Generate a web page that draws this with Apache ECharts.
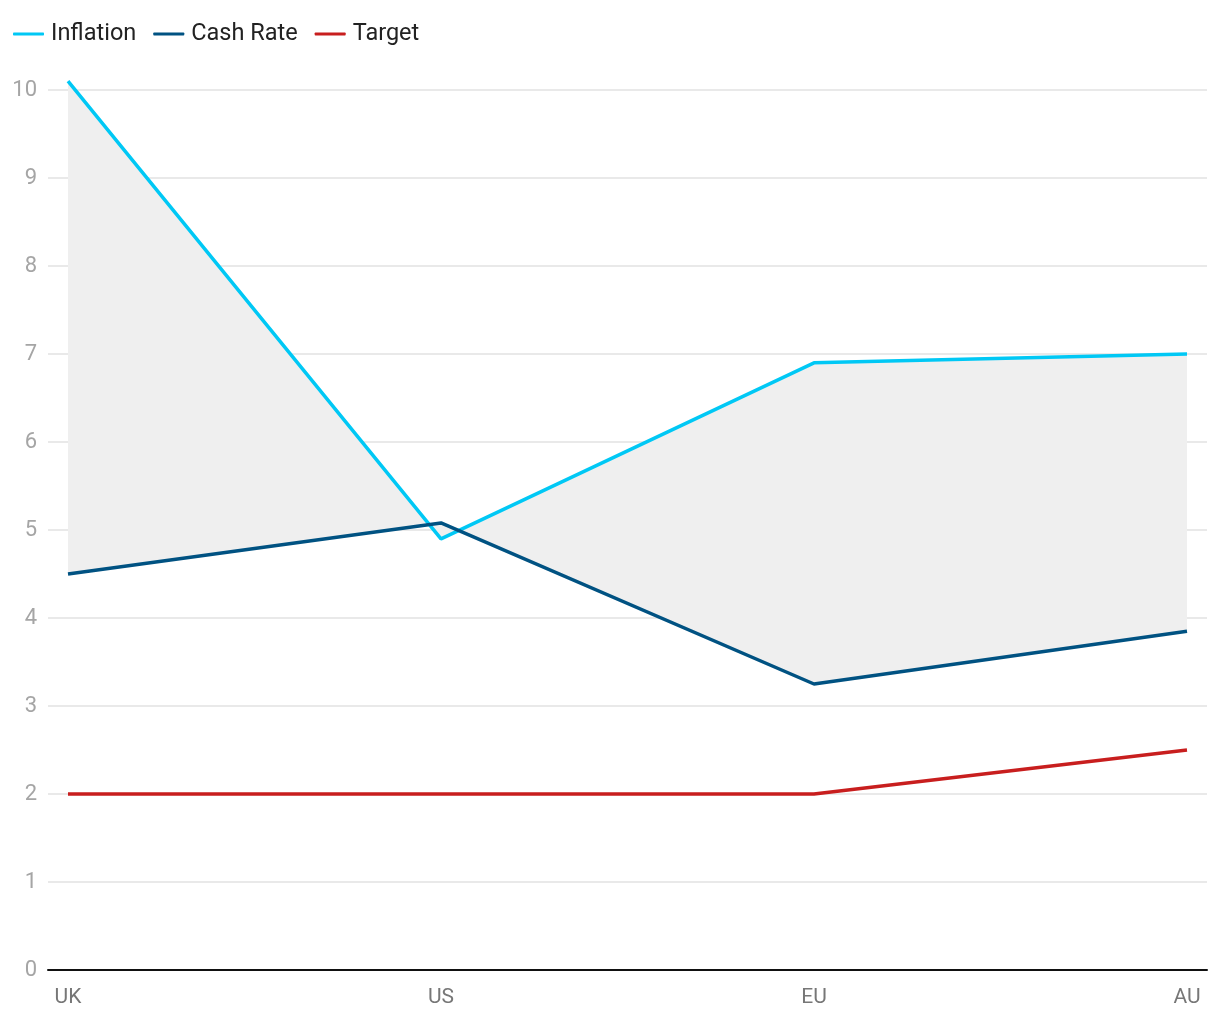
<!DOCTYPE html>
<html>
<head>
<meta charset="utf-8">
<script src="https://cdn.jsdelivr.net/npm/echarts@6/dist/echarts.min.js"></script>
<style>html,body{margin:0;padding:0;background:#fff}#c{width:1220px;height:1020px}</style>
</head>
<body>
<div id="c"></div>
<script>
var categories = ['UK', 'US', 'EU', 'AU'];
var inflation = [10.1, 4.9, 6.9, 7.0];
var cashRate = [4.5, 5.08, 3.25, 3.85];
var target = [2, 2, 2, 2.5];
var yTicks = [0, 1, 2, 3, 4, 5, 6, 7, 8, 9, 10];

function pairs(arr) { return arr.map(function (v, i) { return [i, v]; }); }

var chart = echarts.init(document.getElementById('c'), null, { renderer: 'canvas' });
var pad = 20 / 373;
chart.setOption({
  animation: false,
  textStyle: { fontFamily: 'Roboto' },
  legend: {
    left: 8, top: 17, itemWidth: 31, itemHeight: 3, itemGap: 17,
    icon: 'roundRect',
    textStyle: { fontSize: 23.5, color: '#222', fontFamily: 'Roboto', padding: [0, 0, 0, 2] },
    data: ['Inflation', 'Cash Rate', 'Target']
  },
  grid: { left: 48, right: 13, top: 90, bottom: 50, containLabel: false },
  xAxis: {
    type: 'value', min: -pad, max: categories.length - 1 + pad,
    axisLine: { show: true, lineStyle: { color: '#111', width: 2 } },
    axisTick: { show: false },
    splitLine: { show: false },
    axisLabel: {
      customValues: [0, 1, 2, 3],
      formatter: function (v) { return categories[Math.round(v)]; },
      fontSize: 21, color: '#777', margin: 17, fontFamily: 'Roboto'
    }
  },
  yAxis: {
    type: 'value', min: 0, max: 10, interval: 1,
    axisLine: { show: false }, axisTick: { show: false },
    splitLine: { lineStyle: { color: '#e2e2e2', width: 1.5 } },
    axisLabel: { fontSize: 22, color: '#a5a5a5', margin: 11, fontFamily: 'Roboto' }
  },
  series: [
    {
      type: 'custom', name: 'band', z: 1, silent: true, clip: false,
      data: [[0, 0]],
      renderItem: function (params, api) {
        var pts = [];
        for (var i = 0; i < inflation.length; i++) pts.push(api.coord([i, inflation[i]]));
        for (var j = cashRate.length - 1; j >= 0; j--) pts.push(api.coord([j, cashRate[j]]));
        return { type: 'polygon', shape: { points: pts }, style: { fill: '#efefef' } };
      }
    },
    {
      name: 'Inflation', type: 'line', data: pairs(inflation), clip: false, z: 3,
      symbol: 'none', color: '#00c8f5', lineStyle: { width: 3.5, color: '#00c8f5' }
    },
    {
      name: 'Cash Rate', type: 'line', data: pairs(cashRate), clip: false, z: 4,
      symbol: 'none', color: '#005282', lineStyle: { width: 3.5, color: '#005282' }
    },
    {
      name: 'Target', type: 'line', data: pairs(target), clip: false, z: 4,
      symbol: 'none', color: '#c81e1e', lineStyle: { width: 3.5, color: '#c81e1e' }
    }
  ]
});
</script>
</body>
</html>
